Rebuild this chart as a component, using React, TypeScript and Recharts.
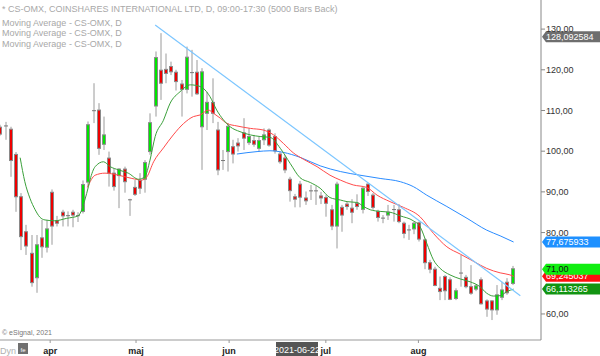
import { ComposedChart, Bar, Line, XAxis, YAxis, ReferenceDot } from 'recharts';

// daily candles (index 0 = first bar at the left edge)
const opens = [
  105.9, 106.3, 105.4, 99.2, 88.8, 80.2, 74.9, 68.9, 78.7, 76.4,
  89.9, 82.9, 85.0, 84.2, 85.0, 84.2, 85.2, 92.4, 110.1, 110.1,
  101.7, 98.3, 94.6, 94.0, 95.6, 88.1, 91.1, 92.8, 93.1, 99.9,
  111.1, 119.9, 120.1, 120.8, 119.4, 116.5, 115.2, 119.4, 119.4, 106.0,
  109.3, 112.0, 105.2, 97.8, 99.9, 101.1, 102.0, 104.5, 102.1, 102.6,
  100.7, 102.8, 105.2, 103.6, 99.3, 98.3, 93.1, 88.8, 91.9, 88.5,
  90.3, 90.3, 89.0, 88.6, 85.6, 81.6, 86.2, 87.0, 86.0, 87.2,
  85.7, 91.9, 89.2, 85.2, 83.6, 84.3, 85.7, 85.6, 82.3, 80.7,
  80.9, 82.4, 78.2, 72.6, 71.0, 66.3, 69.2, 68.4, 63.8, 70.1,
  69.0, 66.7, 66.1, 68.4, 63.2, 63.2, 61.0, 64.1, 67.8, 67.5,
];
const highs = [
  106.5, 107.2, 106.0, 99.8, 89.7, 81.9, 79.4, 79.4, 83.1, 83.1,
  90.6, 84.1, 85.6, 85.2, 85.6, 85.0, 92.8, 107.3, 116.7, 111.8,
  108.5, 99.9, 95.8, 95.8, 96.2, 88.3, 92.9, 94.6, 97.8, 109.3,
  124.5, 129.0, 124.0, 122.0, 120.0, 117.5, 125.7, 124.9, 122.4, 120.4,
  114.6, 117.9, 107.2, 100.3, 106.9, 102.8, 103.2, 108.1, 105.6, 104.0,
  103.6, 105.6, 105.6, 104.4, 99.9, 99.1, 93.7, 89.5, 92.7, 90.1,
  91.7, 91.4, 90.0, 89.2, 86.8, 92.5, 86.8, 87.6, 88.2, 89.4,
  91.4, 92.1, 89.7, 85.6, 84.3, 86.8, 86.8, 87.0, 82.7, 81.9,
  82.7, 82.7, 78.6, 73.3, 71.6, 69.2, 69.6, 69.0, 66.3, 74.5,
  69.6, 72.0, 67.3, 69.0, 63.6, 63.4, 67.1, 67.9, 68.8, 71.8,
];
const lows = [
  103.8, 102.8, 93.7, 85.1, 75.7, 74.5, 66.7, 65.2, 73.8, 75.1,
  77.0, 81.5, 81.5, 81.5, 81.3, 82.6, 84.7, 91.3, 106.9, 99.1,
  100.3, 91.3, 90.3, 86.0, 89.8, 84.1, 89.0, 89.5, 89.8, 99.1,
  108.5, 112.6, 116.7, 118.7, 114.9, 108.5, 114.2, 113.4, 113.8, 95.4,
  105.2, 106.9, 94.1, 95.4, 95.0, 97.0, 99.9, 100.3, 101.5, 101.1,
  99.9, 101.5, 101.1, 99.4, 96.9, 94.6, 87.6, 86.2, 86.2, 86.8,
  88.0, 86.8, 87.0, 83.9, 80.6, 76.1, 80.2, 85.6, 82.3, 85.6,
  84.7, 89.0, 85.6, 82.7, 82.3, 83.1, 82.7, 82.3, 78.6, 78.2,
  79.6, 77.8, 71.0, 70.0, 66.8, 63.4, 63.4, 63.4, 63.4, 66.7,
  66.3, 64.7, 65.6, 62.3, 59.3, 58.5, 59.8, 63.4, 64.7, 67.1,
];
const closes = [
  104.2, 106.1, 97.7, 88.8, 79.0, 76.7, 67.7, 77.0, 76.5, 80.9,
  81.6, 82.3, 84.1, 84.1, 84.3, 84.1, 91.8, 106.5, 109.8, 100.7,
  104.0, 94.6, 91.3, 95.6, 92.5, 88.0, 89.4, 90.9, 97.2, 107.0,
  123.0, 116.7, 119.1, 119.5, 117.1, 115.2, 123.1, 119.2, 114.1, 119.5,
  112.0, 109.3, 95.4, 97.6, 106.1, 99.3, 101.3, 103.2, 103.6, 101.7,
  102.6, 104.0, 101.5, 100.1, 97.4, 95.4, 90.3, 88.2, 88.7, 87.8,
  90.2, 90.2, 88.5, 87.2, 81.6, 91.9, 84.3, 86.4, 85.0, 86.4,
  90.9, 90.1, 86.2, 83.7, 83.5, 85.0, 85.6, 82.7, 79.8, 80.6,
  82.3, 78.4, 72.6, 71.0, 67.0, 65.5, 65.7, 63.6, 65.7, 70.0,
  66.7, 65.1, 66.9, 62.5, 61.2, 61.0, 64.7, 65.9, 65.2, 71.1,
];

// moving averages, [bar index, value]
const maFast = [
  [3.8, 98.4], [4.7, 92.5], [5.7, 88.4], [6.7, 85.6], [7.6, 83.8], [8.6, 83.1], [10.5, 82.9],
  [12.8, 83.5], [15.0, 84.1], [15.7, 85.6], [16.3, 88.0], [17.0, 91.3], [17.3, 92.9], [18.3, 96.2],
  [19.9, 97.4], [21.2, 96.2], [22.8, 95.4], [24.7, 94.6], [26.7, 93.1], [27.9, 93.7], [28.9, 97.8],
  [29.9, 103.6], [31.5, 107.6], [32.8, 111.8], [34.7, 114.6], [36.7, 116.3], [38.6, 115.9],
  [40.5, 113.4], [41.8, 110.1], [43.1, 107.7], [44.4, 106.0], [46.3, 104.8], [48.3, 104.0],
  [50.2, 103.6], [52.1, 103.4], [54.1, 100.7], [56.0, 97.0], [57.9, 93.5], [59.9, 92.3],
  [61.8, 90.9], [63.7, 88.6], [65.7, 88.0], [67.0, 87.6], [68.9, 87.4], [70.2, 86.4], [71.5, 85.6],
  [73.4, 85.2], [75.3, 85.0], [77.3, 84.1], [79.8, 82.9], [81.1, 81.5], [82.4, 77.4], [83.7, 73.3],
  [85.0, 71.2], [86.9, 69.6], [88.9, 68.6], [90.8, 67.9], [92.7, 66.7], [94.0, 65.1], [95.3, 64.4],
  [96.6, 64.5], [97.9, 65.5], [99.2, 66.1],
];
const maMid = [
  [16.8, 91.1], [18.3, 94.1], [20.2, 94.6], [22.8, 94.1], [25.4, 93.3], [27.3, 92.9], [28.3, 93.7],
  [29.6, 97.4], [31.5, 100.8], [33.4, 104.0], [35.4, 106.8], [37.3, 108.5], [38.6, 108.9],
  [40.2, 110.1], [41.2, 109.3], [42.5, 108.1], [43.8, 106.8], [45.7, 106.2], [48.3, 105.6],
  [50.8, 105.2], [52.8, 104.0], [54.7, 101.9], [56.6, 99.6], [58.6, 98.0], [61.2, 96.2],
  [63.7, 94.1], [65.7, 92.9], [68.2, 91.7], [70.8, 91.1], [72.8, 89.2], [75.3, 87.6], [77.9, 86.2],
  [81.1, 83.9], [83.7, 79.8], [86.3, 76.5], [88.9, 74.7], [91.5, 72.9], [94.0, 71.2], [96.6, 70.1],
  [98.5, 69.6], [99.2, 69.25],
];
const maSlow = [
  [45.7, 99.3], [49.6, 99.9], [52.1, 100.1], [54.7, 99.7], [57.9, 98.5], [61.8, 96.4], [65.7, 95.0],
  [69.5, 94.1], [73.4, 93.3], [77.3, 92.5], [79.8, 91.3], [82.4, 89.2], [86.3, 86.4], [90.2, 83.5],
  [94.0, 80.6], [96.6, 79.2], [99.2, 77.68],
];
const trendLine = [[29.9, 131.0], [100.5, 64.5]];

// 70,00 sits under the value flags in the original, so it is not listed
const yTicks = [60, 80, 90, 100, 110, 120, 130];
const monthTicks = [9.6, 26.2, 44.2, 62.9, 80.8];
const monthLabels = ['apr', 'maj', 'jun', 'jul', 'aug'];

const flags = [
  { v: 128.092584, text: '128,092584', bg: '#6e6e6e', fg: '#ffffff' },
  { v: 77.675933, text: '77,675933', bg: '#1e90ff', fg: '#ffffff' },
  { v: 69.245037, text: '69,245037', bg: '#ff1010', fg: '#ffffff' },
  { v: 71.0, text: '71,00', bg: '#11ee11', fg: '#111111' },
  { v: 66.113265, text: '66,113265', bg: '#129412', fg: '#ffffff' },
];

const legend = [
  '* CS-OMX, COINSHARES INTERNATIONAL LTD, D, 09:00-17:30 (5000 Bars Back)',
  'Moving Average - CS-OMX, D',
  'Moving Average - CS-OMX, D',
  'Moving Average - CS-OMX, D',
];

const FONT = '"Liberation Sans", Arial, sans-serif';

const candles = opens.map((o, i) => ({ i, o, h: highs[i], l: lows[i], c: closes[i] }));
const toPts = (arr: number[][]) => arr.map(([i, v]) => ({ i, v }));

const Candle = (props: any) => {
  const { x, y, width, height, payload } = props;
  if (x == null || y == null || !payload) return null;
  const { o, h, l, c } = payload;
  const top = Math.min(y, y + height);
  const bot = Math.max(y, y + height);
  const span = h - l;
  const py = (v: number) => (span > 0 ? top + ((h - v) / span) * (bot - top) : top);
  const px = Math.round(x + width / 2) - 2;
  const bt = Math.min(py(o), py(c));
  const bb = Math.max(py(o), py(c));
  const doji = Math.abs(o - c) < 0.3;
  return (
    <g>
      <line x1={px + 2} x2={px + 2} y1={top} y2={bot} stroke="#9a9a9a" strokeWidth={1} />
      {doji ? (
        <line x1={px} x2={px + 4} y1={(bt + bb) / 2} y2={(bt + bb) / 2} stroke="#777" strokeWidth={1} />
      ) : (
        <rect
          x={px + 0.5}
          y={bt}
          width={3}
          height={Math.max(1, bb - bt)}
          fill={c >= o ? '#00e600' : '#ee0000'}
          stroke="#8a8a8a"
          strokeWidth={1}
        />
      )}
    </g>
  );
};

const Flag = ({ cx, cy, text, bg, fg }: any) => {
  if (cx == null || cy == null) return null;
  return (
    <g>
      <polygon
        points={`${cx + 1},${cy} ${cx + 5},${cy - 5.5} ${cx + 62},${cy - 5.5} ${cx + 62},${cy + 5.5} ${cx + 5},${cy + 5.5}`}
        fill={bg}
      />
      <text x={cx + 5} y={cy} dy="0.35em" fontSize={9} fill={fg} fontFamily={FONT}>
        {text}
      </text>
    </g>
  );
};

const MonthTick = (props: any) => {
  const { x, y, payload, index } = props;
  return (
    <text x={x} y={y} dy="0.71em" textAnchor="middle" fontSize={9} fontWeight="bold" fill="#222" fontFamily={FONT}>
      {monthLabels[index] ?? payload.value}
    </text>
  );
};

export default function App() {
  return (
    <div style={{ position: 'absolute', left: 0, top: 0, width: 600, height: 356, background: '#fff', fontFamily: FONT }}>
      <ComposedChart width={600} height={356} data={candles} margin={{ top: 0, right: 0, bottom: 0, left: 0 }}>
        <XAxis
          dataKey="i"
          type="number"
          domain={[-0.1, 104.5]}
          allowDataOverflow
          ticks={monthTicks}
          interval={0}
          height={16}
          tickSize={3}
          tickMargin={5}
          axisLine={{ stroke: '#999' }}
          tickLine={{ stroke: '#999' }}
          tick={<MonthTick />}
        />
        <YAxis
          orientation="right"
          type="number"
          domain={[53.6, 137.15]}
          allowDataOverflow
          ticks={yTicks}
          interval={0}
          width={59}
          tickSize={4}
          tickMargin={1}
          axisLine={{ stroke: '#888' }}
          tickLine={{ stroke: '#888' }}
          tick={{ fontSize: 9, fill: '#333', fontFamily: FONT }}
          tickFormatter={(v: number) => v.toFixed(2).replace('.', ',')}
        />
        <Bar dataKey={(d: any) => [d.l, d.h]} barSize={4} shape={<Candle />} isAnimationActive={false} />
        <Line data={toPts(maSlow)} dataKey="v" type="monotone" stroke="#2a8cff" strokeWidth={1} dot={false} activeDot={false} isAnimationActive={false} />
        <Line data={toPts(maMid)} dataKey="v" type="monotone" stroke="#ff4a4a" strokeWidth={1} dot={false} activeDot={false} isAnimationActive={false} />
        <Line data={toPts(maFast)} dataKey="v" type="monotone" stroke="#3aa03a" strokeWidth={1} dot={false} activeDot={false} isAnimationActive={false} />
        <Line data={toPts(trendLine)} dataKey="v" type="linear" stroke="#7cc6ff" strokeWidth={1.2} dot={false} activeDot={false} isAnimationActive={false} />
        {flags.map((f) => (
          <ReferenceDot
            key={f.text}
            x={104.5}
            y={f.v}
            ifOverflow="visible"
            shape={(p: any) => <Flag {...p} text={f.text} bg={f.bg} fg={f.fg} />}
          />
        ))}
      </ComposedChart>
      <svg width={600} height={356} style={{ position: 'absolute', left: 0, top: 0, pointerEvents: 'none' }}>
        {legend.map((t, k) => (
          <text key={k} x={2} y={k === 0 ? 12 : 25.5 + (k - 1) * 10.8} fontSize={9} fill="#a8a8a8" fontFamily={FONT}>
            {t}
          </text>
        ))}
        <text x={2} y={335} fontSize={7} fill="#777" fontFamily={FONT}>© eSignal, 2021</text>
        <text x={0} y={354} fontSize={9} fill="#b0b0b0" fontFamily={FONT}>Dyn</text>
        <rect x={18} y={343} width={10} height={11} fill="#707070" />
        <text x={23} y={352} fontSize={6} fill="#fff" textAnchor="middle" fontFamily={FONT}>fe</text>
        <rect x={276} y={342} width={42} height={14} fill="#555" />
        <text x={297} y={353} fontSize={9} fill="#fff" textAnchor="middle" fontFamily={FONT}>2021-06-22</text>
      </svg>
    </div>
  );
}
